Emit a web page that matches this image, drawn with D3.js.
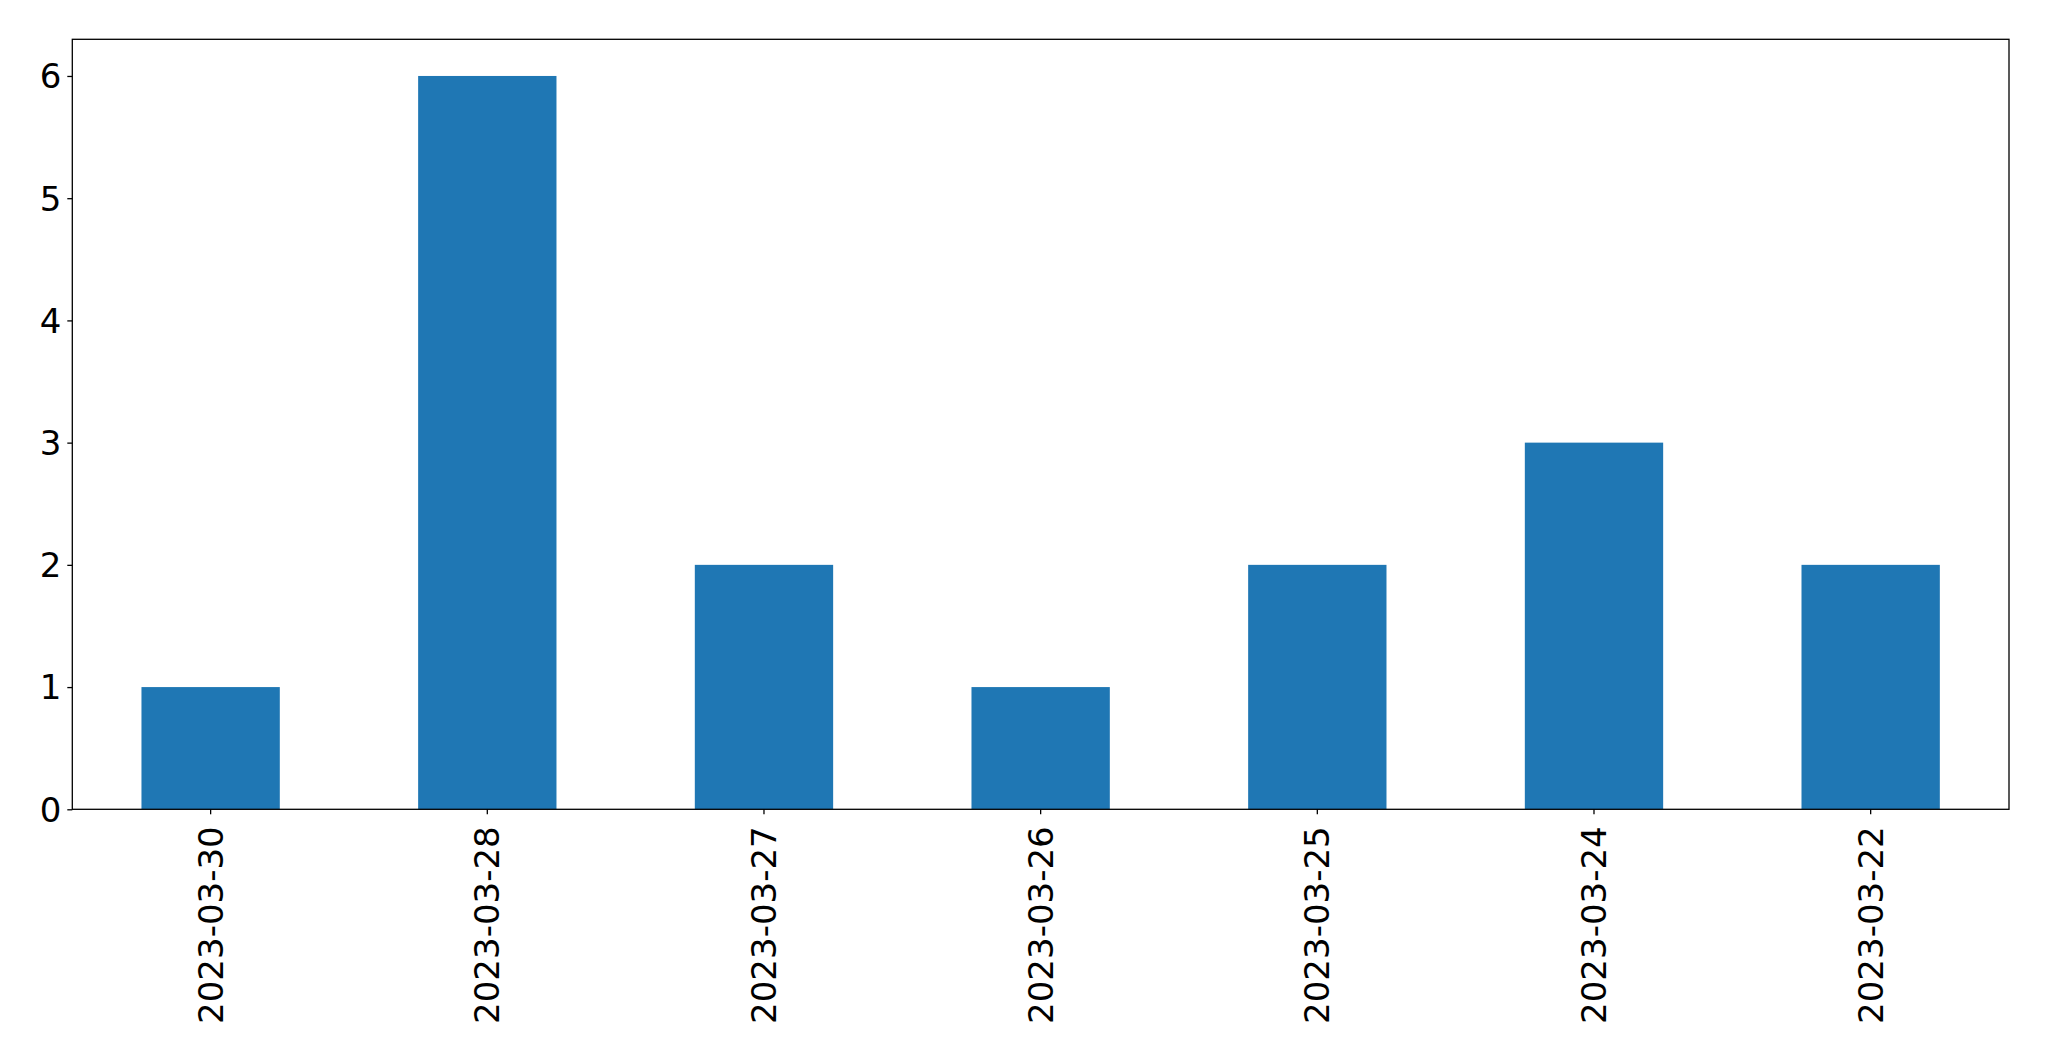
<!DOCTYPE html>
<html>
<head>
<meta charset="utf-8">
<script src="https://cdn.jsdelivr.net/npm/d3@7"></script>
<style>
  html, body { margin: 0; padding: 0; background: #fff; }
  svg { display: block; }
  text { font-family: "DejaVu Sans", sans-serif; }
</style>
</head>
<body>
<script>
const categories = ["2023-03-30", "2023-03-28", "2023-03-27", "2023-03-26", "2023-03-25", "2023-03-24", "2023-03-22"];
const values = [1, 6, 2, 1, 2, 3, 2];
const yTicks = [0, 1, 2, 3, 4, 5, 6];

const W = 2049, H = 1061;
const m = { left: 72.3, right: 2009, top: 39.3, bottom: 809.3 };

const svg = d3.select("body").append("svg").attr("width", W).attr("height", H);

const x = d3.scaleBand().domain(categories).range([m.left, m.right])
  .paddingInner(0.5).paddingOuter(0.25);
const y = d3.scaleLinear().domain([0, 6.3]).range([m.bottom, m.top]);

svg.append("g").selectAll("rect").data(values).join("rect")
  .attr("x", (d, i) => x(categories[i]))
  .attr("width", x.bandwidth())
  .attr("y", d => y(d))
  .attr("height", d => y(0) - y(d))
  .attr("fill", "#1f77b4");

const fs = 34;
const yAxis = d3.axisLeft(y).tickValues(yTicks).tickSize(5).tickPadding(6).tickFormat(d3.format("d"));
const gy = svg.append("g").attr("transform", `translate(${m.left},0)`).call(yAxis);
gy.select(".domain").remove();
gy.selectAll("line").attr("stroke", "#000").attr("stroke-width", 1.3);
gy.selectAll("text").attr("font-size", fs).attr("fill", "#000").attr("dy", "0.35em")
  .style("font-family", "DejaVu Sans");

const xAxis = d3.axisBottom(x).tickSize(5).tickPadding(12);
const gx = svg.append("g").attr("transform", `translate(0,${m.bottom})`).call(xAxis);
gx.select(".domain").remove();
gx.selectAll("line").attr("stroke", "#000").attr("stroke-width", 1.3);
gx.selectAll("text")
  .attr("font-size", fs).attr("fill", "#000")
  .style("font-family", "DejaVu Sans")
  .attr("text-anchor", "end")
  .attr("transform", "rotate(-90)")
  .attr("x", -17).attr("y", 0).attr("dy", "0.35em");

svg.append("rect")
  .attr("x", m.left).attr("y", m.top)
  .attr("width", m.right - m.left).attr("height", m.bottom - m.top)
  .attr("fill", "none").attr("stroke", "#000").attr("stroke-width", 1.3);
</script>
</body>
</html>
